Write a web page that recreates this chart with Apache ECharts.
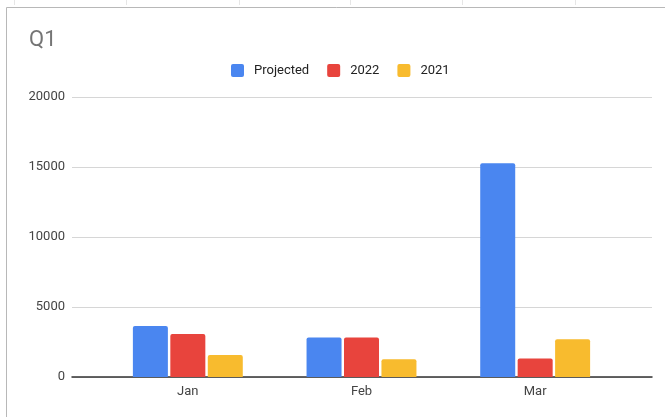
<!DOCTYPE html>
<html>
<head>
<meta charset="utf-8">
<script src="https://cdn.jsdelivr.net/npm/echarts@6/dist/echarts.min.js"></script>
<style>
  html, body { margin: 0; padding: 0; background: #fff; }
  #main { width: 665px; height: 417px; }
</style>
</head>
<body>
<div id="main"></div>
<script>
var months = ['Jan', 'Feb', 'Mar'];
var projected = [3650, 2830, 15260];
var sales2022 = [3070, 2830, 1330];
var sales2021 = [1580, 1260, 2690];
var yTicks = { min: 0, max: 20000, interval: 5000 };

var myChart = echarts.init(document.getElementById('main'));

// small rounded square for the legend swatches
var swatch = 'path://M2,0H11A2,2,0,0,1,13,2V11A2,2,0,0,1,11,13H2A2,2,0,0,1,0,11V2A2,2,0,0,1,2,0Z';

// faint cell borders of the sheet above the chart
var cellTicks = [14, 126, 239, 350, 462, 575].map(function (x) {
    return {
        type: 'line',
        shape: { x1: x + 0.5, y1: 0, x2: x + 0.5, y2: 5 },
        style: { stroke: '#e6e6e6', lineWidth: 1 },
        silent: true
    };
});

var option = {
    backgroundColor: '#fff',
    textStyle: { fontFamily: 'Roboto' },
    title: {
        text: 'Q1',
        left: 24,
        top: 24,
        textStyle: { fontSize: 22, fontWeight: 'normal', color: '#757575', fontFamily: 'Roboto' }
    },
    legend: {
        left: 226,
        top: 59,
        itemWidth: 13,
        itemHeight: 13,
        itemGap: 18,
        icon: swatch,
        textStyle: { fontSize: 13, color: '#222', fontFamily: 'Roboto', padding: [0, 0, 0, 5] },
        data: ['Projected', '2022', '2021']
    },
    graphic: cellTicks.concat([
        {
            type: 'polyline',
            shape: { points: [[6.5, 420], [6.5, 7.5], [670, 7.5]] },
            style: { stroke: '#b8b8b8', lineWidth: 1, fill: null },
            silent: true
        }
    ]),
    grid: [
        { left: 72, right: 13, top: 97, bottom: 40 },
        { left: 101, right: 43, top: 97, bottom: 40 }
    ],
    xAxis: [
        {
            type: 'category',
            gridIndex: 0,
            data: months,
            axisLine: { lineStyle: { color: '#333', width: 1.5 } },
            axisTick: { show: false },
            axisLabel: { show: false }
        },
        {
            type: 'category',
            gridIndex: 1,
            data: months,
            axisLine: { show: false },
            axisTick: { show: false },
            axisLabel: { fontSize: 13, color: '#444', margin: 8, fontFamily: 'Roboto' }
        }
    ],
    yAxis: [
        {
            type: 'value',
            gridIndex: 0,
            min: yTicks.min,
            max: yTicks.max,
            interval: yTicks.interval,
            axisLine: { show: false },
            axisTick: { show: false },
            axisLabel: {
                fontSize: 13, color: '#444', margin: 7, fontFamily: 'Roboto',
                formatter: function (v) { return String(v); }
            },
            splitLine: { lineStyle: { color: '#d6d6d6', width: 1 } }
        },
        {
            type: 'value',
            gridIndex: 1,
            min: yTicks.min,
            max: yTicks.max,
            interval: yTicks.interval,
            show: false,
            splitLine: { show: false }
        }
    ],
    series: [
        {
            name: 'Projected',
            type: 'bar',
            xAxisIndex: 1,
            yAxisIndex: 1,
            data: projected,
            barWidth: 35,
            barGap: '7%',
            itemStyle: { color: '#4a86f0', borderRadius: [2, 2, 0, 0] }
        },
        {
            name: '2022',
            type: 'bar',
            xAxisIndex: 1,
            yAxisIndex: 1,
            data: sales2022,
            barWidth: 35,
            barGap: '7%',
            itemStyle: { color: '#e8443d', borderRadius: [2, 2, 0, 0] }
        },
        {
            name: '2021',
            type: 'bar',
            xAxisIndex: 1,
            yAxisIndex: 1,
            data: sales2021,
            barWidth: 35,
            barGap: '7%',
            itemStyle: { color: '#f8bb2e', borderRadius: [2, 2, 0, 0] }
        }
    ]
};
myChart.setOption(option);
</script>
</body>
</html>
